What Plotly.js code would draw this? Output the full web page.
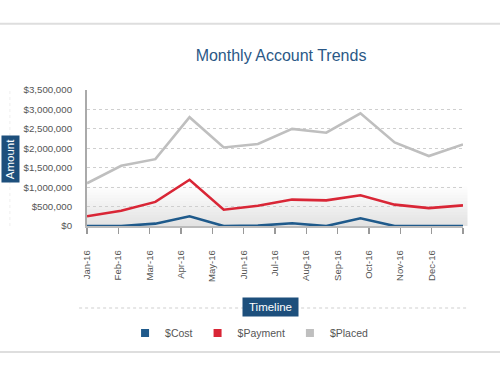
<!DOCTYPE html>
<html>
<head>
<meta charset="utf-8">
<script src="https://cdn.plot.ly/plotly-3.0.1.min.js"></script>
<style>html,body{margin:0;padding:0;background:#fff;}#chart{width:500px;height:375px;}</style>
</head>
<body>
<div id="chart"></div>
<script>
// ---- data ----
const months = ["Jan-16","Feb-16","Mar-16","Apr-16","May-16","Jun-16","Jul-16","Aug-16","Sep-16","Oct-16","Nov-16","Dec-16"];
const costValues = [0, 0, 60000, 250000, 0, 10000, 70000, 0, 200000, 0, 0, 0];
const paymentValues = [250000, 390000, 620000, 1190000, 420000, 520000, 680000, 660000, 790000, 550000, 460000, 530000];
const placedValues = [1100000, 1550000, 1720000, 2800000, 2020000, 2110000, 2500000, 2400000, 2900000, 2150000, 1800000, 2100000];
const seriesNames = ["$Cost", "$Payment", "$Placed"];
const yTickValues = [0, 500000, 1000000, 1500000, 2000000, 2500000, 3000000, 3500000];
const xTickLabels = months.concat([""]);

const colors = ["#1f5a8b", "#d92636", "#bfbfbf"];
const FONT = "Liberation Sans, Arial, sans-serif";
const allValues = [costValues, paymentValues, placedValues];

const traces = [];
// draw order: placed (back), payment, cost (front)
[2,1,0].forEach(i => {
  traces.push({
    x: months, y: allValues[i], xaxis: 'x2', yaxis: 'y',
    type: 'scatter', mode: 'lines', name: seriesNames[i], showlegend: false,
    line: {color: colors[i], width: 2.6}, hoverinfo: 'skip'
  });
});
// legend entries (square swatches)
[0,1,2].forEach(i => {
  traces.push({
    x: [null], y: [null], xaxis: 'x', yaxis: 'y', type: 'scatter', mode: 'markers',
    name: seriesNames[i], marker: {symbol: 'square', size: 8, color: colors[i]}
  });
});

// background gradient built from stacked translucent bands
const shapes = [];
const N = 14;
for (let k = 1; k <= N; k++) {
  shapes.push({type: 'rect', xref: 'paper', yref: 'paper', x0: 0, x1: 1.013, y0: 0, y1: 0.29 * k / N,
    fillcolor: 'rgba(0,0,0,0.007)', line: {width: 0}, layer: 'below'});
}
shapes.push({type: 'line', xref: 'paper', yref: 'paper', x0: -0.24, x1: 1.1, y0: 1.4875, y1: 1.4875, line: {color: '#dedede', width: 2}});
shapes.push({type: 'line', xref: 'paper', yref: 'paper', x0: -0.24, x1: 1.1, y0: -0.9265, y1: -0.9265, line: {color: '#dedede', width: 2}});
shapes.push({type: 'line', xref: 'paper', yref: 'paper', x0: -0.021, x1: 1.013, y0: -0.603, y1: -0.603, line: {color: '#cfcfcf', width: 1, dash: 'dot'}});
shapes.push({type: 'line', xref: 'paper', yref: 'paper', x0: -0.205, x1: -0.205, y0: 0, y1: 1.0, line: {color: '#efefef', width: 1, dash: 'dot'}});

const layout = {
  width: 500, height: 375,
  margin: {l: 87, r: 37, t: 90, b: 149},
  paper_bgcolor: '#ffffff', plot_bgcolor: 'rgba(0,0,0,0)',
  font: {family: FONT, color: '#555555'},
  title: {text: 'Monthly Account Trends', font: {family: FONT, size: 16, color: '#2b5886'},
    xref: 'paper', x: 0.516, xanchor: 'center', y: 0.853, yanchor: 'middle'},
  xaxis: {
    type: 'linear', range: [0, 12], tickvals: [0,1,2,3,4,5,6,7,8,9,10,11,12], ticktext: xTickLabels,
    tickangle: -90, tickfont: {family: FONT, size: 9.5, color: '#555'},
    ticks: 'outside', ticklen: 6, tickcolor: '#999', tickwidth: 1.5,
    showline: true, linecolor: '#bbbbbb', linewidth: 1.5, showgrid: false, zeroline: false,
    ticklabelstandoff: 13, fixedrange: true
  },
  xaxis2: {type: 'category', overlaying: 'x', range: [0, 11], visible: false, categoryarray: months, categoryorder: 'array'},
  yaxis: {
    range: [0, 3500000], tickvals: yTickValues, tickformat: '$,.0f',
    tickfont: {family: FONT, size: 9.7, color: '#555'},
    showgrid: true, gridcolor: '#cfcfcf', griddash: 'dot', gridwidth: 1,
    showline: true, linecolor: '#aaaaaa', linewidth: 2, zeroline: false, ticks: '', ticklabelstandoff: 11
  },
  legend: {orientation: 'h', x: 0.431, xanchor: 'center', y: -0.787, yanchor: 'middle',
    font: {family: FONT, size: 10.5, color: '#555'}, itemwidth: 30, bgcolor: 'rgba(0,0,0,0)'},
  shapes: shapes,
  annotations: [
    {text: 'Amount', xref: 'paper', yref: 'paper', x: -0.2048, y: 0.4926, xanchor: 'center', yanchor: 'middle',
      textangle: -90, showarrow: false, bgcolor: '#1d4f7c', width: 44, height: 15,
      font: {family: FONT, size: 11.5, color: '#ffffff'}},
    {text: 'Timeline', xref: 'paper', yref: 'paper', x: 0.489, y: -0.5956, xanchor: 'center', yanchor: 'middle',
      showarrow: false, bgcolor: '#1d4f7c', width: 53, height: 16,
      font: {family: FONT, size: 11.5, color: '#ffffff'}}
  ]
};

Plotly.newPlot('chart', traces, layout, {staticPlot: true, displayModeBar: false});
</script>
</body>
</html>
